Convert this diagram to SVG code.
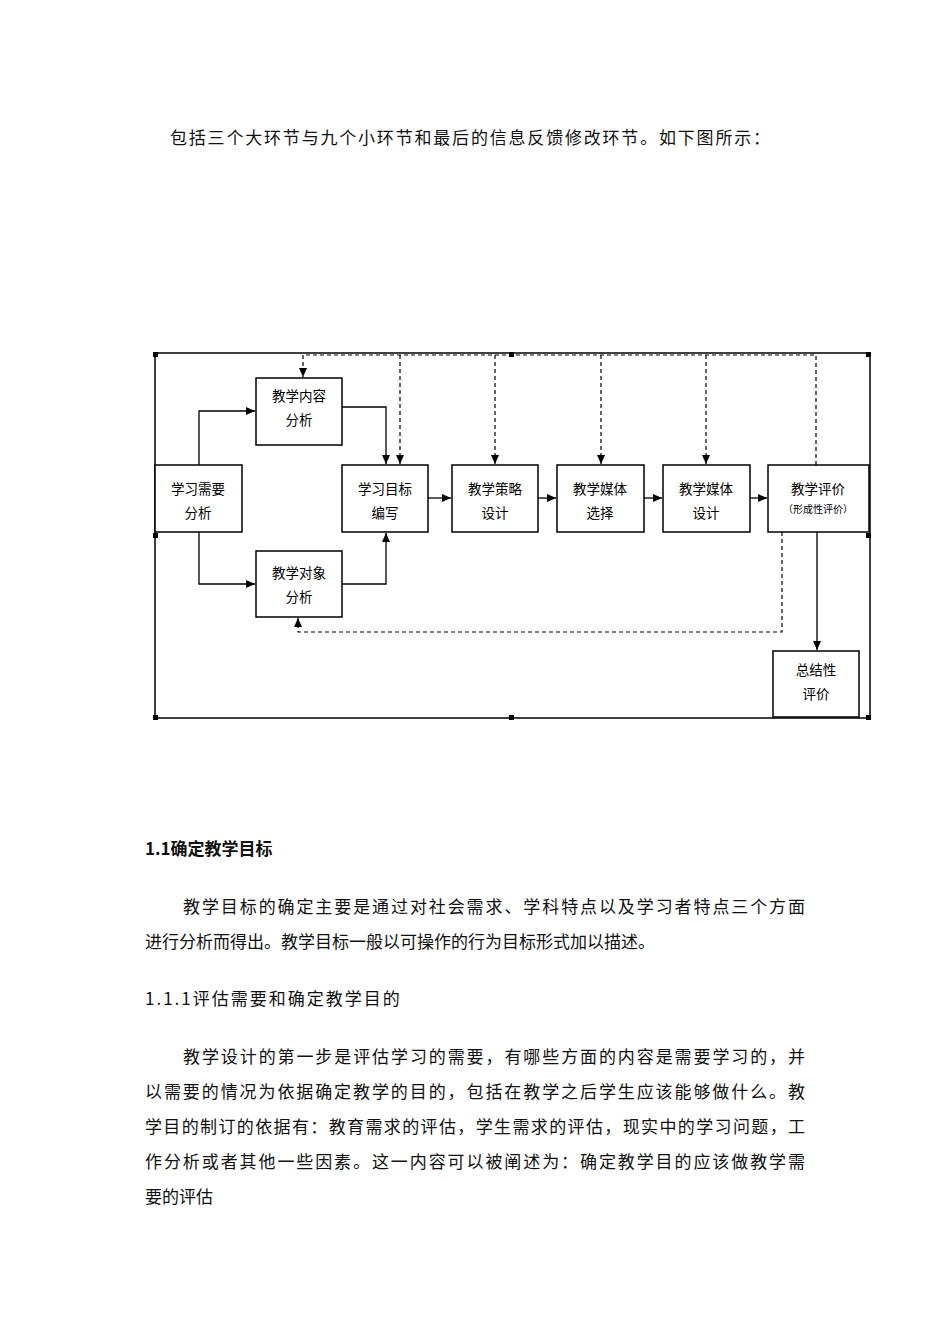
<svg xmlns="http://www.w3.org/2000/svg" width="950" height="1344" viewBox="0 0 950 1344">
<style>
.t{font-family:"Noto Sans CJK SC","Liberation Sans",sans-serif;font-size:17px;fill:#111}
.b{font-size:17px;font-weight:bold}
.n rect{fill:#fff;stroke:#000;stroke-width:1.5}
.n text{font-family:"Noto Sans CJK SC",sans-serif;font-size:13.5px;fill:#000;text-anchor:middle}
.s{fill:none;stroke:#000;stroke-width:1.3}
.d{fill:none;stroke:#000;stroke-width:1.2;stroke-dasharray:4 3}
.h{fill:#000}
</style>
<defs><marker id="a" markerWidth="10" markerHeight="10" refX="9" refY="5" orient="auto" markerUnits="userSpaceOnUse"><path d="M0,1 L9,5 L0,9 Z" fill="#000"/></marker></defs>
<rect width="950" height="1344" fill="#fff"/>
<text class="t" x="170" y="144" textLength="600">包括三个大环节与九个小环节和最后的信息反馈修改环节。如下图所示：</text>
<rect x="155" y="353" width="715" height="365" fill="none" stroke="#000" stroke-width="1.5"/>
<g class="h"><rect x="153" y="352" width="5" height="5"/><rect x="509" y="352" width="5" height="5"/><rect x="866" y="352" width="5" height="5"/><rect x="153" y="533" width="5" height="5"/><rect x="866" y="533" width="5" height="5"/><rect x="153" y="715" width="5" height="5"/><rect x="509" y="715" width="5" height="5"/><rect x="866" y="715" width="5" height="5"/></g>
<g id="connectors">
<path class="s" d="M199,465 V411 H255" marker-end="url(#a)"/>
<path class="s" d="M199,532 V584 H255" marker-end="url(#a)"/>
<path class="s" d="M342,407 H386 V464" marker-end="url(#a)"/>
<path class="s" d="M342,584 H386 V533" marker-end="url(#a)"/>
<path class="s" d="M428,498 H451" marker-end="url(#a)"/>
<path class="s" d="M538,498 H556" marker-end="url(#a)"/>
<path class="s" d="M644,498 H662" marker-end="url(#a)"/>
<path class="s" d="M750,498 H767" marker-end="url(#a)"/>
<path class="s" d="M817,532 V650" marker-end="url(#a)"/>
<path class="d" d="M816,465 V355 H303 V377" marker-end="url(#a)"/>
<path class="d" d="M400,355 V464" marker-end="url(#a)"/>
<path class="d" d="M495,355 V464" marker-end="url(#a)"/>
<path class="d" d="M601,355 V464" marker-end="url(#a)"/>
<path class="d" d="M706,355 V464" marker-end="url(#a)"/>
<path class="d" d="M782,532 V632 H298 V618" marker-end="url(#a)"/>
</g>
<g id="n1" class="n"><rect x="155" y="465" width="87" height="67"/><text x="198" y="494">学习需要</text><text x="198" y="518">分析</text></g>
<g id="n2" class="n"><rect x="256" y="378" width="86" height="67"/><text x="299" y="401">教学内容</text><text x="299" y="425">分析</text></g>
<g id="n3" class="n"><rect x="256" y="551" width="86" height="66"/><text x="299" y="578">教学对象</text><text x="299" y="602">分析</text></g>
<g id="n4" class="n"><rect x="342" y="465" width="86" height="67"/><text x="385" y="494">学习目标</text><text x="385" y="518">编写</text></g>
<g id="n5" class="n"><rect x="452" y="465" width="86" height="67"/><text x="495" y="494">教学策略</text><text x="495" y="518">设计</text></g>
<g id="n6" class="n"><rect x="557" y="465" width="87" height="67"/><text x="600" y="494">教学媒体</text><text x="600" y="518">选择</text></g>
<g id="n7" class="n"><rect x="663" y="465" width="87" height="67"/><text x="706" y="494">教学媒体</text><text x="706" y="518">设计</text></g>
<g id="n8" class="n"><rect x="768" y="465" width="101" height="67"/><text x="818" y="494">教学评价</text><text x="818" y="513" style="font-size:10px">（形成性评价）</text></g>
<g id="n9" class="n"><rect x="773" y="651" width="86" height="66"/><text x="816" y="675">总结性</text><text x="816" y="699">评价</text></g>
<text class="t b" x="145" y="855">1.1确定教学目标</text>
<text class="t" x="183" y="913" textLength="622">教学目标的确定主要是通过对社会需求、学科特点以及学习者特点三个方面</text>
<text class="t" x="145" y="948">进行分析而得出。教学目标一般以可操作的行为目标形式加以描述。</text>
<text class="t" x="145" y="1005" letter-spacing="2">1.1.1评估需要和确定教学目的</text>
<text class="t" x="183" y="1063" textLength="622">教学设计的第一步是评估学习的需要，有哪些方面的内容是需要学习的，并</text>
<text class="t" x="145" y="1098" textLength="660">以需要的情况为依据确定教学的目的，包括在教学之后学生应该能够做什么。教</text>
<text class="t" x="145" y="1133" textLength="660">学目的制订的依据有：教育需求的评估，学生需求的评估，现实中的学习问题，工</text>
<text class="t" x="145" y="1168" textLength="660">作分析或者其他一些因素。这一内容可以被阐述为：确定教学目的应该做教学需</text>
<text class="t" x="145" y="1203">要的评估</text>
</svg>
